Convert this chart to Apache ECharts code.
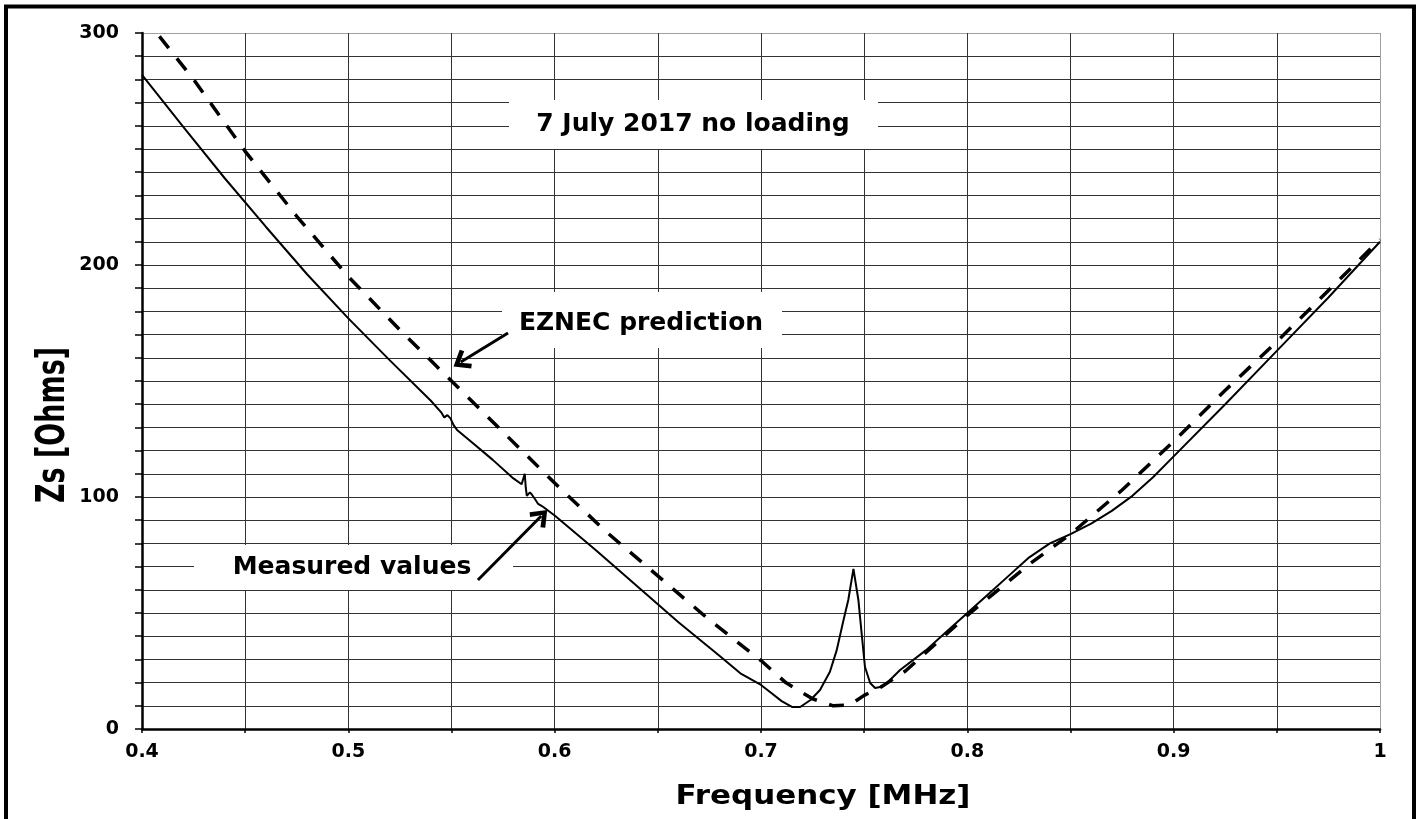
<!DOCTYPE html>
<html>
<head>
<meta charset="utf-8">
<script src="https://cdn.jsdelivr.net/npm/echarts@6/dist/echarts.min.js"></script>
<style>
  html, body { margin: 0; padding: 0; background: #fff; }
  #chart { width: 1422px; height: 819px; }
</style>
</head>
<body>
<div id="chart"></div>
<script>
// measured impedance (solid line)
var freqMeasured = [0.400, 0.420, 0.440, 0.460, 0.480, 0.500, 0.520, 0.540, 0.545, 0.5465, 0.548, 0.5495, 0.5503, 0.551, 0.5527,
    0.560, 0.570, 0.580, 0.584, 0.5855, 0.586, 0.5865, 0.588, 0.589, 0.5905, 0.592, 0.594, 0.600,
    0.620, 0.640, 0.660, 0.680, 0.690, 0.695, 0.700, 0.705, 0.710, 0.715, 0.719, 0.724, 0.7286, 0.7334, 0.7367,
    0.740, 0.7423, 0.7448, 0.7472, 0.7488, 0.7504, 0.7529, 0.7553, 0.7577, 0.761, 0.7641, 0.7674,
    0.780, 0.790, 0.800, 0.810, 0.820, 0.830, 0.840, 0.850, 0.860, 0.870, 0.880, 0.890, 0.900, 0.925, 0.950, 0.975, 1.000];
var zsMeasured = [282, 259.5, 237.5, 216.5, 196, 177, 159, 141.5, 136.5, 134.3, 135.3, 133.9, 134.6, 131, 128.9,
    123.5, 116, 108, 105.5, 110, 104, 100.5, 102, 101, 99, 97, 96, 92,
    77, 61.5, 46, 31.5, 24, 21.5, 19, 15.5, 12, 9.5, 9.5, 12.5, 16.8, 24.7, 34,
    47, 55.6, 69, 55.6, 41, 26.7, 19.8, 17.7, 18.1, 19.8, 22.5, 25.4,
    34, 42, 50, 58, 66, 74, 80, 84, 88.5, 94, 100.5, 108.5, 117.5, 140, 163, 186, 210];

// EZNEC prediction (dashed line)
var freqEznec = [0.400, 0.425, 0.450, 0.475, 0.500, 0.525, 0.550, 0.575, 0.600, 0.625, 0.650, 0.675, 0.700,
    0.712, 0.725, 0.735, 0.743, 0.750, 0.758, 0.770, 0.785, 0.800, 0.815, 0.830, 0.850, 0.875, 0.900, 0.925, 0.950, 0.975, 1.000];
var zsEznec = [308, 280, 249, 221, 195, 172, 150, 128, 106, 85, 66, 47, 29.5,
    20, 13, 10, 10.3, 14.5, 18, 25, 37, 49, 60, 71, 84, 103, 124, 146, 167, 189, 211];

// arrow annotations [from, to] in data units
var arrowEznec = [[0.5774, 170.7], [0.5545, 158.2]];
var arrowMeasured = [[0.5628, 64.2], [0.5935, 91.8]];

var FONT = '"DejaVu Sans", sans-serif';
var grid = '#333';

function pairs(xs, ys) {
    return xs.map(function (x, i) { return [x, ys[i]]; });
}

// open arrow head, tip at the top of the path box
var chevron = 'path://M10,0 L20,12 L16.6,14.6 L10,6.2 L3.4,14.6 L0,12 Z';

// white label box: above the grid lines, below the series and arrows
function annotation(cx, cy, w, h, tx, ty, text) {
    return {
        type: 'group',
        z: 1,
        children: [
            {type: 'rect', z: 1, shape: {x: cx - w / 2, y: cy - h / 2, width: w, height: h}, style: {fill: '#fff'}},
            {type: 'text', z: 1, x: tx, y: ty, style: {text: text, font: 'bold 25px ' + FONT, fill: '#000', align: 'center', verticalAlign: 'middle'}}
        ]
    };
}

var option = {
    animation: false,
    backgroundColor: '#fff',
    grid: {left: 142, right: 42, top: 33, bottom: 90, show: false},
    xAxis: {
        type: 'value',
        min: 0.4,
        max: 1,
        interval: 0.1,
        axisLine: {lineStyle: {color: '#000', width: 2.5}},
        axisTick: {show: true, length: 4, lineStyle: {color: '#000', width: 1.5}},
        minorTick: {show: true, splitNumber: 2, length: 4, lineStyle: {color: '#000', width: 1.5}},
        axisLabel: {margin: 14, color: '#000', fontSize: 19, fontWeight: 'bold', fontFamily: FONT},
        splitLine: {show: true, lineStyle: {color: [grid, grid, grid, grid, grid, grid, '#a0a0a0'], width: 1}},
        minorSplitLine: {show: true, lineStyle: {color: grid, width: 1}}
    },
    yAxis: {
        type: 'value',
        min: 0,
        max: 300,
        interval: 100,
        axisLine: {show: true, lineStyle: {color: '#000', width: 2.5}},
        axisTick: {show: true, length: 7, lineStyle: {color: '#000', width: 1.5}},
        minorTick: {show: true, splitNumber: 10, length: 7, lineStyle: {color: '#000', width: 1.5}},
        axisLabel: {margin: 23, color: '#000', fontSize: 19, fontWeight: 'bold', fontFamily: FONT},
        splitLine: {show: true, lineStyle: {color: [grid, grid, grid, '#a0a0a0'], width: 1}},
        minorSplitLine: {show: true, lineStyle: {color: grid, width: 1}}
    },
    series: [
        {
            name: 'EZNEC prediction',
            type: 'line',
            data: pairs(freqEznec, zsEznec),
            showSymbol: false,
            lineStyle: {color: '#000', width: 3.5, type: [15, 13]},
            z: 3
        },
        {
            name: 'Measured values',
            type: 'line',
            data: pairs(freqMeasured, zsMeasured),
            showSymbol: false,
            lineStyle: {color: '#000', width: 2},
            z: 4,
            markLine: {
                silent: true,
                symbol: ['none', chevron],
                symbolSize: [22, 17],
                label: {show: false},
                lineStyle: {color: '#000', width: 3, type: 'solid'},
                data: [
                    [{coord: arrowEznec[0]}, {coord: arrowEznec[1]}],
                    [{coord: arrowMeasured[0]}, {coord: arrowMeasured[1]}]
                ]
            }
        }
    ],
    graphic: [
        {type: 'rect', z: 200, shape: {x: 6, y: 6.5, width: 1408, height: 900}, style: {fill: 'none', stroke: '#000', lineWidth: 4}},
        annotation(693.5, 124.5, 369, 49, 693, 124, '7 July 2017 no loading'),
        annotation(642, 320, 280, 56, 641, 323, 'EZNEC prediction'),
        annotation(353.5, 567.5, 319, 45, 352, 567, 'Measured values'),
        {type: 'text', z: 100, x: 823, y: 797, scaleX: 1.19, style: {text: 'Frequency [MHz]', font: 'bold 26px ' + FONT, fill: '#000', align: 'center', verticalAlign: 'middle'}},
        {type: 'text', z: 100, x: 54, y: 425, rotation: Math.PI / 2, scaleY: 1.45, style: {text: 'Zs [Ohms]', font: 'bold 27px ' + FONT, fill: '#000', align: 'center', verticalAlign: 'middle'}}
    ]
};

var myChart = echarts.init(document.getElementById('chart'));
myChart.setOption(option);
</script>
</body>
</html>
